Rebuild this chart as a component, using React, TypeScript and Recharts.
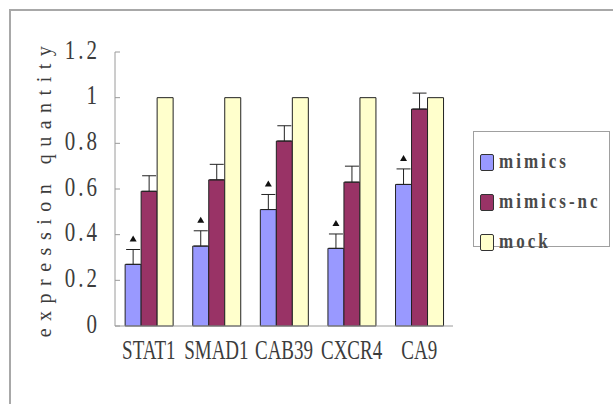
import React from 'react';
import {
  BarChart,
  Bar,
  XAxis,
  YAxis,
  ErrorBar,
  LabelList,
} from 'recharts';

const genes = ['STAT1', 'SMAD1', 'CAB39', 'CXCR4', 'CA9'];
const mimics = [0.27, 0.35, 0.51, 0.34, 0.62];
const mimicsErr = [0.065, 0.067, 0.066, 0.063, 0.068];
const mimicsNc = [0.59, 0.64, 0.81, 0.63, 0.95];
const mimicsNcErr = [0.068, 0.068, 0.067, 0.07, 0.07];
const mock = [1, 1, 1, 1, 1];
const yTicks = [0, 0.2, 0.4, 0.6, 0.8, 1, 1.2];

const BLUE = '#9999FF';
const PURPLE = '#993366';
const YELLOW = '#FFFFCC';
const AXIS = '#9a9a9a';
const TEXT = '#3c3c3c';

const data = genes.map((g, i) => ({
  gene: g,
  mimics: mimics[i],
  mimicsErr: [0, mimicsErr[i]],
  mimicsNc: mimicsNc[i],
  mimicsNcErr: [0, mimicsNcErr[i]],
  mock: mock[i],
}));

const legendItems = [
  { name: 'mimics', color: BLUE },
  { name: 'mimics-nc', color: PURPLE },
  { name: 'mock', color: YELLOW },
];

function XTick(props: any) {
  const { x, y, payload } = props;
  return (
    <g transform={`translate(${x},${y})`}>
      <text
        transform="scale(1,1.4)"
        y={18}
        textAnchor="middle"
        fontFamily="'Liberation Serif', serif"
        fontSize={19}
        fill={TEXT}
      >
        {payload.value}
      </text>
    </g>
  );
}

function YTick(props: any) {
  const { x, y, payload } = props;
  return (
    <g transform={`translate(${x},${y})`}>
      <text
        transform="scale(1,1.3)"
        y={5}
        textAnchor="end"
        fontFamily="'Liberation Serif', serif"
        fontSize={21}
        letterSpacing={3}
        fill={TEXT}
      >
        {payload.value}
      </text>
    </g>
  );
}

function YLabel(props: any) {
  const { viewBox } = props;
  const cx = viewBox.x + 44;
  const cy = viewBox.y + viewBox.height / 2 - 1;
  return (
    <text
      x={cx}
      y={cy}
      transform={`rotate(-90 ${cx} ${cy})`}
      textAnchor="middle"
      dominantBaseline="central"
      fontFamily="'Liberation Serif', serif"
      fontSize={20}
      letterSpacing={7.5}
      fill={TEXT}
    >
      expression quantity
    </text>
  );
}

// small black triangle above each mimics error bar
function Marker(props: any) {
  const { x, y, width, height, value, index } = props;
  const perUnit = height / value;
  const top = y - mimicsErr[index] * perUnit;
  const cx = x + width / 2;
  return (
    <path
      d={`M${cx - 3.5},${top - 8} L${cx + 3.5},${top - 8} L${cx},${top - 14} Z`}
      fill="#111"
    />
  );
}

function LegendBox() {
  return (
    <div
      style={{
        position: 'absolute',
        left: 473,
        top: 131,
        width: 137,
        height: 116,
        border: '1.5px solid #a0a0a0',
        background: '#fff',
        boxSizing: 'border-box',
        paddingTop: 10,
      }}
    >
      {legendItems.map((it) => (
        <div
          key={it.name}
          style={{ display: 'flex', alignItems: 'center', height: 40, paddingLeft: 6 }}
        >
          <span
            style={{
              width: 14,
              height: 17,
              background: it.color,
              border: '1.5px solid #333',
              borderRadius: 2,
              boxSizing: 'border-box',
              marginRight: 5,
              flexShrink: 0,
            }}
          />
          <span
            style={{
              display: 'inline-block',
              transform: 'scaleY(1.25)',
              fontFamily: "'Liberation Serif', serif",
              fontWeight: 'bold',
              fontSize: 17,
              letterSpacing: 3,
              color: '#4a4a4a',
              whiteSpace: 'nowrap',
            }}
          >
            {it.name}
          </span>
        </div>
      ))}
    </div>
  );
}

export default function App() {
  return (
    <div style={{ position: 'absolute', left: 0, top: 0, width: 613, height: 404, overflow: 'hidden', background: '#fff' }}>
      <div
        style={{
          position: 'absolute',
          left: 9,
          top: 9,
          width: 700,
          height: 500,
          borderTop: '2px solid #a8a8a8',
          borderLeft: '2px solid #a8a8a8',
        }}
      />
      <div style={{ position: 'absolute', left: 0, top: 0 }}>
        <BarChart
          width={613}
          height={404}
          data={data}
          margin={{ top: 52, right: 160, bottom: 0, left: 0 }}
          barGap={0}
          barCategoryGap="15%"
        >
          <XAxis
            dataKey="gene"
            stroke={AXIS}
            tickLine={false}
            tick={<XTick />}
            interval={0}
            height={78}
          />
          <YAxis
            domain={[0, 1.2]}
            ticks={yTicks}
            interval={0}
            stroke={AXIS}
            tickSize={-5}
            tick={<YTick />}
            tickMargin={20}
            width={115}
            label={<YLabel />}
          />
          <Bar dataKey="mimics" fill={BLUE} stroke="#222" strokeWidth={1} isAnimationActive={false}>
            <ErrorBar dataKey="mimicsErr" width={7} stroke="#222" strokeWidth={1} />
            <LabelList dataKey="mimics" content={<Marker />} />
          </Bar>
          <Bar dataKey="mimicsNc" fill={PURPLE} stroke="#222" strokeWidth={1} isAnimationActive={false}>
            <ErrorBar dataKey="mimicsNcErr" width={7} stroke="#222" strokeWidth={1} />
          </Bar>
          <Bar dataKey="mock" fill={YELLOW} stroke="#222" strokeWidth={1} isAnimationActive={false} />
        </BarChart>
      </div>
      <LegendBox />
    </div>
  );
}
